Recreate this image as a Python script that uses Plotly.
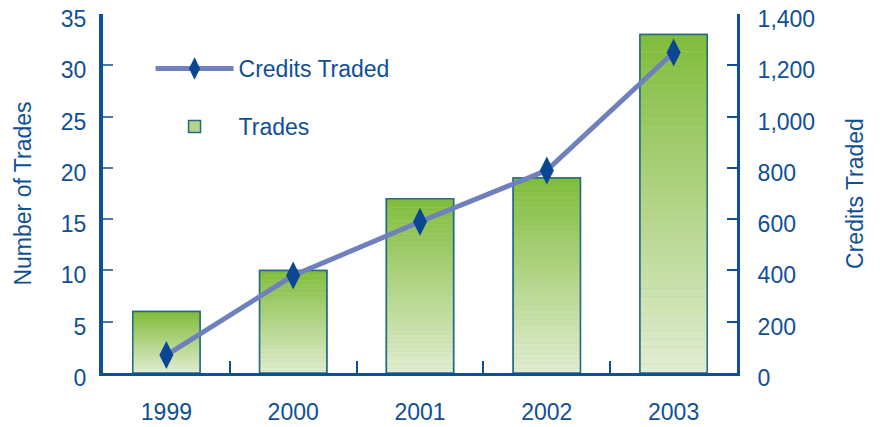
import plotly.graph_objects as go

years = ["1999", "2000", "2001", "2002", "2003"]
trades = [6, 10, 17, 19, 33]
credits_traded = [70, 380, 590, 790, 1250]
left_ticks = [0, 5, 10, 15, 20, 25, 30, 35]
right_ticks = [0, 200, 400, 600, 800, 1000, 1200, 1400]

FONT = "Liberation Sans, Arial, sans-serif"
FS = 23
BLUE = "#0f4f96"
N = 40
top_rgb = (128, 188, 58)
bot_rgb = (226, 237, 211)
bar_w = 0.53

fig = go.Figure()

# legend / base bar
fig.add_trace(go.Bar(
    x=years, y=trades, name="Trades", width=bar_w,
    marker=dict(color="#b3d489", line=dict(color="#246a86", width=1.5)),
    legendgroup="t", legendrank=2, hoverinfo="skip",
))

# gradient segments
for i in range(N):
    f = (i + 0.5) / N
    c = tuple(round(b + (t - b) * f) for t, b in zip(top_rgb, bot_rgb))
    fig.add_trace(go.Bar(
        x=years, y=[v / N for v in trades], base=[v * i / N for v in trades],
        width=bar_w, marker=dict(color="rgb(%d,%d,%d)" % c, line=dict(width=0)),
        showlegend=False, hoverinfo="skip",
    ))

# outline on top
fig.add_trace(go.Bar(
    x=years, y=trades, width=bar_w, showlegend=False,
    marker=dict(color="rgba(0,0,0,0)", line=dict(color="#246a86", width=1.5)),
))

fig.add_trace(go.Scatter(
    x=years, y=credits_traded, yaxis="y2", name="Credits Traded",
    mode="lines+markers", legendgroup="c", legendrank=1,
    line=dict(color="#6f80bd", width=5),
    marker=dict(symbol="diamond-tall", size=20, color="#0a4693"),
))

fig.update_layout(
    width=864, height=419,
    margin=dict(l=95, r=135, t=6, b=54, autoexpand=False),
    paper_bgcolor="white", plot_bgcolor="white",
    barmode="overlay", bargap=0.47,
    font=dict(family=FONT, size=FS, color=BLUE),
    showlegend=True,
    legend=dict(
        x=0.075, y=0.908, xanchor="left", yanchor="top",
        traceorder="grouped", tracegroupgap=25,
        font=dict(family=FONT, size=FS, color=BLUE),
        bgcolor="rgba(0,0,0,0)", itemwidth=78,
    ),
    xaxis=dict(
        type="category", showline=True, linecolor=BLUE, linewidth=3,
        ticks="inside", tickson="boundaries", ticklen=12, tickcolor=BLUE, tickwidth=1.5,
        tickfont=dict(size=FS, color=BLUE), showgrid=False, zeroline=False,
        automargin=False, ticklabelstandoff=16, ticklabeloverflow="allow",
    ),
    yaxis=dict(
        range=[0, 35.001], tickvals=left_ticks, showline=True, linecolor=BLUE, linewidth=4,
        ticks="inside", ticklen=10, tickcolor="#4a78b0", tickwidth=2,
        showgrid=False, zeroline=False, ticklabelstandoff=8, automargin=False,
        ticklabeloverflow="allow", ticklabelshift=5,
        title=dict(text="Number of Trades", font=dict(size=FS, color=BLUE), standoff=24),
    ),
    yaxis2=dict(
        range=[0, 1400.04], tickvals=right_ticks, tickformat=",", overlaying="y", side="right",
        showline=True, linecolor=BLUE, linewidth=3,
        ticks="inside", ticklen=10, tickcolor=BLUE, tickwidth=1.5,
        showgrid=False, zeroline=False, ticklabelstandoff=13, automargin=False,
        ticklabeloverflow="allow", ticklabelshift=5,
        title=dict(text="Credits Traded", font=dict(size=FS, color=BLUE), standoff=33),
    ),
)

fig.write_html("out.html")
